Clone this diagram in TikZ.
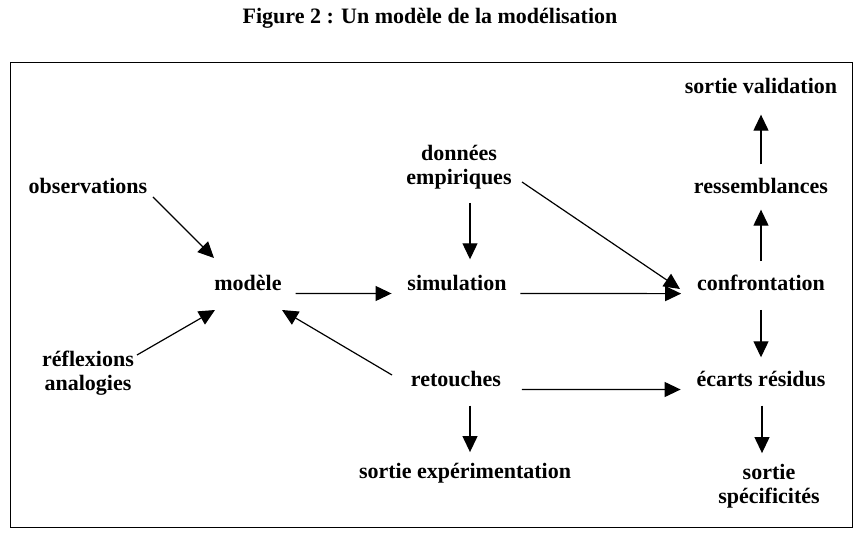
\documentclass[tikz,border=0pt]{standalone}
\usepackage{fontspec}
\setmainfont{Liberation Serif}
\usetikzlibrary{arrows.meta,positioning}

\begin{document}
\begin{tikzpicture}[x=1pt,y=1pt,-{Triangle[length=16pt,width=15pt]},line width=1.2pt,
                    node distance=96pt, shorten >=12pt, shorten <=10pt,
                    label/.style={font=\fontsize{22}{24}\selectfont\bfseries, align=center},
                    free/.style={shorten >=0pt, shorten <=0pt}]
  \tikzstyle{every node}=[label]

  \useasboundingbox (0,0) rectangle (860,533);
  \node (title) at (430,515) {Figure 2 : Un modèle de la modélisation};
  \draw[-, line width=0.8pt, free] (10,6) rectangle (852,471);

  \node                                  (modele)  at (248,250) {modèle};
  \node                                  (simul)   at (457,250) {simulation};
  \node                                  (confr)   at (761,250) {confrontation};
  \node                                  (obs)     at (88,347)  {observations};
  \node                                  (reflex)  at (88,160)  {réflexions\\analogies};
  \node[above of=simul, node distance=116pt, xshift=2pt] (donnees) {données\\empiriques};
  \node[below of=simul, xshift=-1pt]     (retouch)               {retouches};
  \node[below of=retouch, node distance=94pt, xshift=9pt] (sortexp) {sortie expérimentation};
  \node[above of=confr, node distance=97pt]   (ressemb) {ressemblances};
  \node[above of=ressemb, node distance=100pt] (sortval) {sortie validation};
  \node[below of=confr]                  (ecarts)  {écarts résidus};
  \node[below of=ecarts, node distance=107pt, xshift=8pt] (sortspec) {sortie\\spécificités};

  \path ([shift={(65,-11)}]obs.center)     edge[free] ([shift={(-34,25)}]modele.center)
        ([shift={(49,18)}]reflex.center)   edge[free] ([shift={(-33,-27)}]modele.center)
        ([shift={(-64,4)}]retouch.center)  edge[free] ([shift={(34,-27)}]modele.center)
        ([yshift=-3pt]modele.base east)    edge ([yshift=-3pt]simul.base west)
        ([xshift=11pt]donnees.south) edge ([xshift=11pt]donnees.south |- simul.north)
        ([shift={(63,-15)}]donnees.center) edge[free] ([shift={(-81,-6)}]confr.center)
        ([yshift=-3pt]simul.base east)     edge ([yshift=-3pt]confr.base west)
        (confr)              edge (ressemb)
        (ressemb)            edge[shorten >=17pt] (sortval)
        (confr)              edge[shorten <=15pt, shorten >=10pt] (ecarts)
        ([yshift=-3pt]retouch.base east)   edge[shorten <=17pt] ([yshift=-3pt]ecarts.base west)
        ([xshift=14pt]retouch.south) edge[shorten <=15pt, shorten >=7pt] ([xshift=14pt]retouch.south |- sortexp.north)
        ([xshift=1pt]ecarts.south)   edge[shorten <=15pt, shorten >=7pt] ([xshift=1pt]ecarts.south |- sortspec.north);
\end{tikzpicture}
\end{document}
